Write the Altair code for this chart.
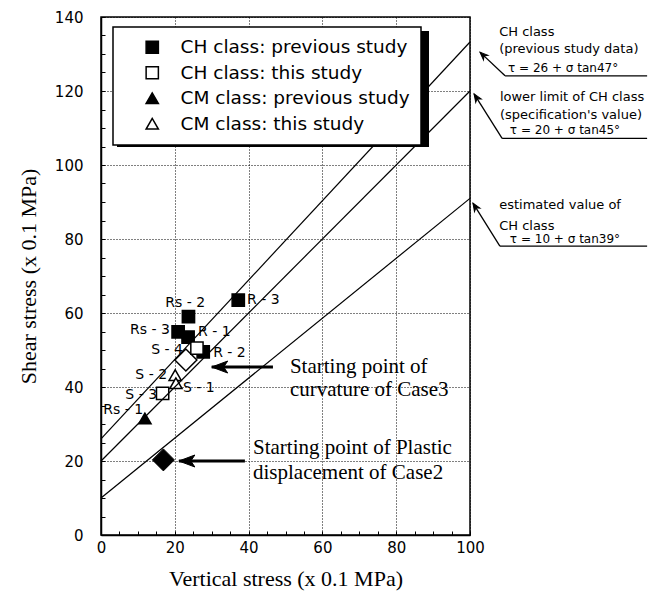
import math
import altair as alt
import pandas as pd

# ---------------- data ----------------
series_names = ["CH class: previous study", "CH class: this study",
                "CM class: previous study", "CM class: this study"]
series_shape = ["square", "square", "triangle-up", "triangle-up"]
series_fill = ["black", "white", "black", "white"]
series_stroke = ["black", "black", "black", "black"]

pt_name = ["Rs - 2", "R - 3", "Rs - 3", "R - 1", "R - 2", "S - 4", "S - 3", "S - 2", "S - 1", "Rs - 1"]
pt_series = [0, 0, 0, 0, 0, 1, 1, 3, 3, 2]
pt_x = [23.7, 37.2, 20.9, 23.6, 27.7, 26.0, 16.7, 20.1, 20.3, 11.9]
pt_y = [59.0, 63.5, 54.9, 53.5, 49.5, 50.5, 38.3, 43.2, 41.0, 31.5]

# label anchor positions (data units) and alignment
lbl_x = [22.8, 39.6, 18.7, 26.3, 30.4, 22.2, 15.2, 17.9, 22.2, 11.4]
lbl_y = [62.7, 63.5, 55.4, 54.9, 49.2, 50.0, 37.8, 43.2, 39.7, 33.8]
lbl_align = ["center", "left", "right", "left", "left", "right", "right", "right", "left", "right"]

# case points (diamonds)
case3_x, case3_y = [23.0], [47.3]
case2_x, case2_y = [16.9], [20.3]

# strength envelopes  tau = c + sigma * tan(phi)
env_name = ["CH previous", "CH lower limit", "CH estimated"]
env_c = [26, 20, 10]
env_deg = [47, 45, 39]
sigma_ends = [0, 100]

# big arrows inside plot
arrow_tail_x = [46.6, 39.0]
arrow_tip_x = [30.0, 21.1]
arrow_y = [45.4, 20.0]

start_text = ["Starting point of", "curvature of Case3",
              "Starting point of Plastic", "displacement of Case2"]
start_x = [51.2, 51.2, 41.2, 41.2]
start_y = [45.4, 39.2, 23.5, 16.8]

# right-hand annotations
note_text = ["CH class", "(previous study data)",
             "lower limit of CH class", "(specification's value)",
             "estimated value of", "CH class"]
note_x = [107.9, 107.9, 108.1, 108.1, 107.9, 107.9]
note_y = [135.9, 131.4, 118.5, 113.6, 89.2, 83.6]
eq_text = ["τ = 26 + σ tan47°", "τ = 20 + σ tan45°", "τ = 10 + σ tan39°"]
eq_x = [110.3, 110.8, 110.8]
eq_y = [126.3, 109.4, 79.9]
lead_start_x = [109.5, 108.7, 108.1]
lead_end_x = [148.0, 148.0, 148.0]
lead_y = [124.1, 107.2, 78.1]
lead_tip_x = [102.7, 101.1, 100.8]
lead_tip_y = [130.5, 119.2, 89.7]
lead_angle = [44, 57, 58]

# ---------------- frames ----------------
pts = pd.DataFrame({"x": pt_x, "y": pt_y,
                    "series": [series_names[i] for i in pt_series],
                    "name": pt_name})
lbl = pd.DataFrame({"x": lbl_x, "y": lbl_y, "name": pt_name, "align": lbl_align})

env_rows = []
for n, c, d in zip(env_name, env_c, env_deg):
    for s in sigma_ends:
        env_rows.append({"env": n, "x": s, "y": c + s * math.tan(math.radians(d))})
env = pd.DataFrame(env_rows)

arrows = pd.DataFrame({"x": arrow_tail_x, "x2": arrow_tip_x, "y": arrow_y})
heads = pd.DataFrame({"x": arrow_tip_x, "y": arrow_y})
starts = pd.DataFrame({"x": start_x, "y": start_y, "t": start_text})
notes = pd.DataFrame({"x": note_x, "y": note_y, "t": note_text})
eqs = pd.DataFrame({"x": eq_x, "y": eq_y, "t": eq_text})
under = pd.DataFrame({"x": lead_start_x, "x2": lead_end_x, "y": lead_y})
leads = pd.DataFrame({"x": lead_start_x, "y": lead_y, "x2": lead_tip_x, "y2": lead_tip_y})
lheads = pd.DataFrame({"x": lead_tip_x, "y": lead_tip_y, "a": lead_angle})

W, H = 369, 518
xs = alt.Scale(domain=[0, 100], nice=False, zero=False)
ys = alt.Scale(domain=[0, 140], nice=False, zero=False)

x_axis = alt.Axis(values=list(range(0, 101, 20)), grid=True, gridDash=[1, 2],
                  gridColor="black", gridWidth=1, gridOpacity=1, ticks=False, tickSize=0,
                  domainColor="black", domainWidth=1.5, labelFont="DejaVu Sans",
                  labelFontSize=15, labelColor="black", labelPadding=5, labelFlush=False,
                  titleFont="Liberation Serif", titleFontSize=22, titleFontWeight="normal",
                  titleColor="black", titlePadding=13)
y_axis = alt.Axis(values=list(range(0, 141, 20)), grid=True, gridDash=[1, 2],
                  gridColor="black", gridWidth=1, gridOpacity=1, ticks=False, tickSize=0,
                  domainColor="black", domainWidth=1.5, labelFont="DejaVu Sans",
                  labelFontSize=15, labelColor="black", labelPadding=18, labelFlush=False,
                  titleFont="Liberation Serif", titleFontSize=22, titleFontWeight="normal",
                  titleColor="black", titlePadding=14)

X = lambda f="x": alt.X(f"{f}:Q", scale=xs, axis=x_axis, title="Vertical stress (x 0.1 MPa)")
Y = lambda f="y": alt.Y(f"{f}:Q", scale=ys, axis=y_axis, title="Shear stress (x 0.1 MPa)")

leg = alt.Legend(orient="none", legendX=12, legendY=10, title=None,
                 symbolStrokeColor="black", symbolStrokeWidth=1.5, labelLimit=400)

shadow = alt.Chart(pts).mark_rect(color="black").encode(
    x=alt.value(16), x2=alt.value(328), y=alt.value(14), y2=alt.value(130))

open_diamond = alt.Chart(pd.DataFrame({"x": case3_x, "y": case3_y})).mark_point(
    shape="diamond", size=484, filled=True, fill="white", stroke="black",
    strokeWidth=1.5, opacity=1).encode(x=X(), y=Y())

points = alt.Chart(pts).mark_point(filled=True, strokeWidth=1.5,
                                   size=150, opacity=1).encode(
    x=X(), y=Y(),
    shape=alt.Shape("series:N", scale=alt.Scale(domain=series_names, range=series_shape),
                    legend=leg, title=None),
    fill=alt.Fill("series:N", scale=alt.Scale(domain=series_names, range=series_fill),
                  legend=leg, title=None),
    stroke=alt.Stroke("series:N", scale=alt.Scale(domain=series_names, range=series_stroke),
                      legend=leg, title=None),
)

filled_diamond = alt.Chart(pd.DataFrame({"x": case2_x, "y": case2_y})).mark_point(
    shape="diamond", size=484, filled=True, fill="black", stroke="black",
    strokeWidth=1, opacity=1).encode(x=X(), y=Y())

lines = alt.Chart(env).mark_line(color="black", strokeWidth=1.2).encode(
    x=X(), y=Y(), detail="env:N")

label_layers = []
for a in ["left", "right", "center"]:
    sub = lbl[lbl["align"] == a]
    label_layers.append(alt.Chart(sub).mark_text(
        align=a, baseline="middle", font="DejaVu Sans", fontSize=14, color="black").encode(
        x=X(), y=Y(), text="name:N"))

arrow_lines = alt.Chart(arrows).mark_rule(color="black", strokeWidth=3).encode(
    x=X(), x2="x2:Q", y=Y())
arrow_heads = alt.Chart(heads).mark_point(
    shape="M0,0L2,-0.75L1.5,0L2,0.75Z", size=256, filled=True, fill="black",
    stroke="black", strokeWidth=1, opacity=1).encode(x=X(), y=Y())

start_txt = alt.Chart(starts).mark_text(
    align="left", baseline="middle", font="Liberation Serif", fontSize=21,
    color="black").encode(x=X(), y=Y(), text="t:N")

note_txt = alt.Chart(notes).mark_text(
    align="left", baseline="middle", font="DejaVu Sans", fontSize=13,
    color="black").encode(x=X(), y=Y(), text="t:N")
eq_txt = alt.Chart(eqs).mark_text(
    align="left", baseline="middle", font="DejaVu Sans", fontSize=12,
    color="black").encode(x=X(), y=Y(), text="t:N")
under_lines = alt.Chart(under).mark_rule(color="black", strokeWidth=1.3).encode(
    x=X(), x2="x2:Q", y=Y())
lead_lines = alt.Chart(leads).mark_rule(color="black", strokeWidth=1.3).encode(
    x=X(), x2="x2:Q", y=Y(), y2="y2:Q")
lead_heads = alt.Chart(lheads).mark_point(
    shape="M0,0L2,-0.8L1.4,0L2,0.8Z", size=64, filled=True, fill="black",
    stroke="black", strokeWidth=1, opacity=1).encode(
    x=X(), y=Y(), angle=alt.Angle("a:Q", scale=None))

main = alt.layer(shadow, open_diamond, points, filled_diamond, lines, *label_layers,
                 arrow_lines, arrow_heads, start_txt, note_txt, eq_txt,
                 under_lines, lead_lines, lead_heads)

tick_x_axis = alt.Axis(orient="top", offset=-H, values=list(range(0, 101, 5)),
                       ticks=True, tickSize=4, tickColor="black", tickWidth=1,
                       labels=False, domain=False, grid=False)
tick_y_axis = alt.Axis(orient="right", offset=-W, values=list(range(0, 141, 5)),
                       ticks=True, tickSize=4, tickColor="black", tickWidth=1,
                       labels=False, domain=False, grid=False)
tick_layer = alt.Chart(env).mark_line(opacity=0).encode(
    x=alt.X("x:Q", scale=xs, axis=tick_x_axis, title=None),
    y=alt.Y("y:Q", scale=ys, axis=tick_y_axis, title=None),
    detail="env:N")

chart = alt.layer(main, tick_layer).resolve_scale(
    x="independent", y="independent").properties(
    width=W, height=H,
    autosize=alt.AutoSizeParams(type="none"),
    padding={"left": 93, "top": 9, "right": 179, "bottom": 58},
    background="white",
).configure_view(stroke="black", strokeWidth=1.5).configure_legend(
    strokeColor="black", strokeWidth=1.5, fillColor="white", padding=11,
    labelFont="DejaVu Sans", labelFontSize=18.5, labelColor="black", labelLimit=400,
    symbolSize=150, symbolStrokeColor="black", symbolStrokeWidth=1.5,
    symbolOpacity=1, symbolOffset=19, labelOffset=19, rowPadding=6.5,
)

chart.save("out.html", embed_options={"renderer": "svg", "actions": False})
